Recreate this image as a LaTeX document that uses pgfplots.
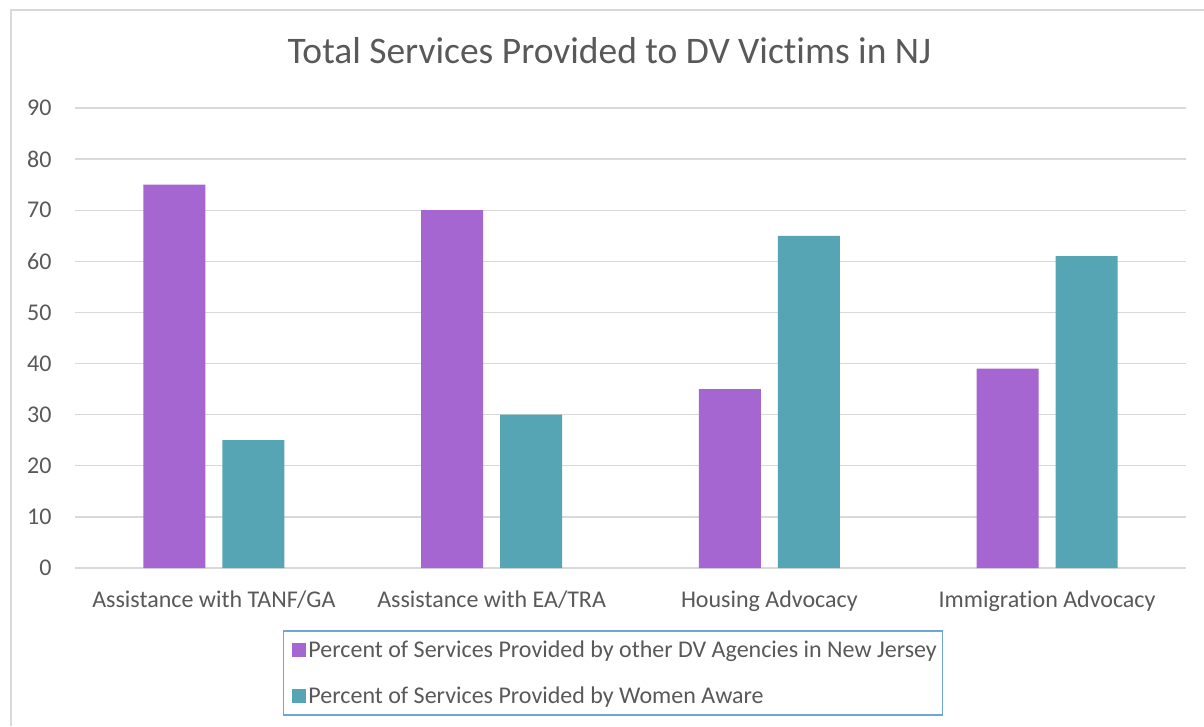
\documentclass[border=0pt]{standalone}
\usepackage{pgfplots}
\pgfplotsset{compat=1.18}
\usepackage{fontspec}
\setmainfont{Carlito}[Ligatures=NoCommon]
\definecolor{purp}{RGB}{165,102,210}
\definecolor{teal2}{RGB}{85,165,180}
\definecolor{txt}{RGB}{89,89,89}
\definecolor{grid}{RGB}{217,217,217}
\definecolor{lgb}{RGB}{110,165,220}
\begin{document}
\begin{tikzpicture}[x=1pt,y=1pt]
\useasboundingbox (-75,-158) rectangle (1129,568);
\fill[white] (-75,-158) rectangle (1129,568);
\draw[grid, line width=1.5pt] (-64,-158) -- (-64,558) -- (1129,558);
\begin{axis}[
  at={(0pt,0pt)}, anchor=south west,
  scale only axis, width=1111pt, height=460pt,
  xmin=-0.5, xmax=3.5, ymin=0, ymax=90,
  ytick={0,10,...,90},
  xtick={0,1,2,3},
  xticklabels={Assistance with TANF/GA,Assistance with EA/TRA,Housing Advocacy,Immigration Advocacy},
  axis lines=left,
  axis line style={-},
  y axis line style={draw=none},
  x axis line style={grid, line width=1.5pt},
  ymajorgrids, xmajorgrids=false,
  major grid style={draw=grid, line width=1.3pt},
  major tick length=0pt,
  ticklabel style={font=\fontsize{24}{29}\selectfont, text=txt},
  /pgf/number format/assume math mode=true,
  yticklabel style={xshift=-20pt},
  xticklabel style={yshift=-19pt},
  title={Total Services Provided to DV Victims in NJ},
  title style={font=\fontsize{37.5}{43}\selectfont, text=txt, at={(0.481,1.111)}, anchor=center},
  legend style={at={(0.187,-0.135)}, anchor=north west, draw=lgb, line width=1.5pt,
    font=\fontsize{24}{29}\selectfont, text=txt, inner xsep=4pt, inner ysep=8pt,
    row sep=24pt, cells={anchor=west}},
  ybar, bar width=0.223,
]
\addplot[fill=purp, draw=none, bar shift=-0.142,
  legend image code/.code={\path (0pt,0pt); \fill[purp] (5pt,-7pt) rectangle (19pt,7pt);}]
  coordinates {(0,75) (1,70) (2,35) (3,39)};
\addplot[fill=teal2, draw=none, bar shift=0.142,
  legend image code/.code={\path (0pt,0pt); \fill[teal2] (5pt,-7pt) rectangle (19pt,7pt);}]
  coordinates {(0,25) (1,30) (2,65) (3,61)};
\legend{Percent of Services Provided by other DV Agencies in New Jersey, Percent of Services Provided by Women Aware}
\end{axis}
\end{tikzpicture}
\end{document}
